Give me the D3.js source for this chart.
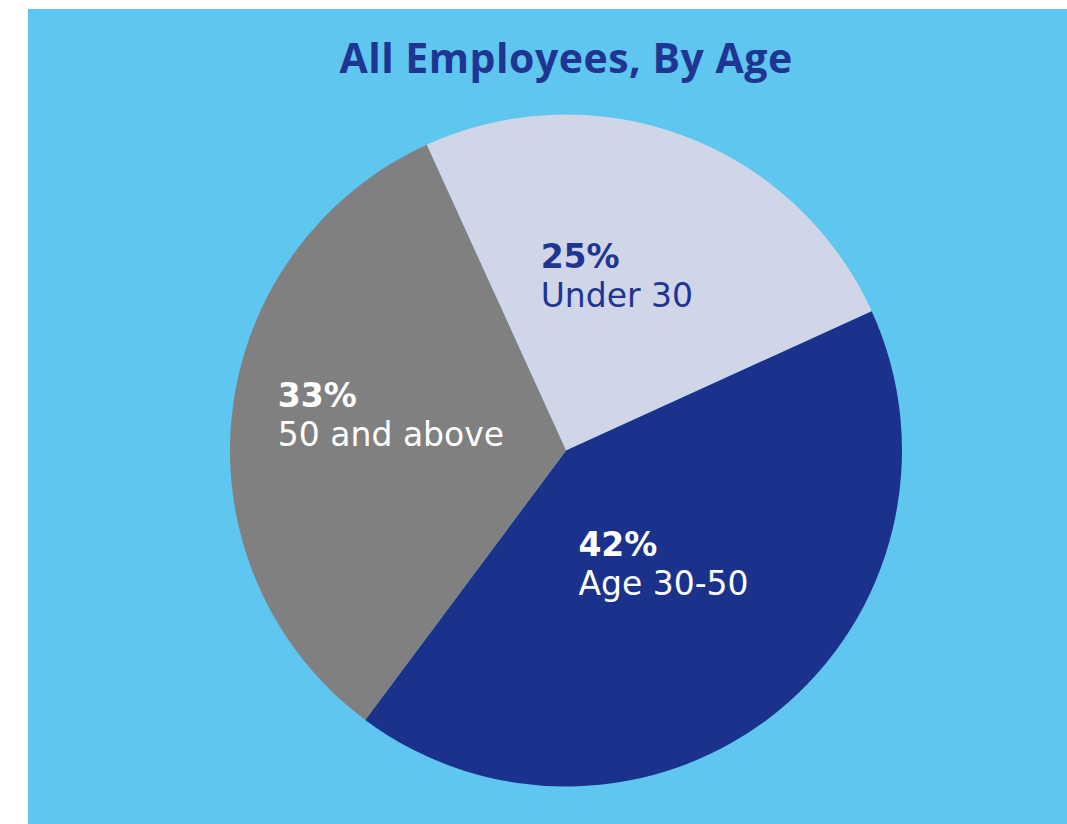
<!DOCTYPE html>
<html>
<head>
<meta charset="utf-8">
<script src="https://cdn.jsdelivr.net/npm/d3@7"></script>
<style>
  html, body { margin: 0; padding: 0; background: #ffffff; }
  svg { display: block; }
  .title { font-family: "Open Sans", Lato, sans-serif; }
  .slice-label { font-family: "DejaVu Sans", "Open Sans", sans-serif; }
</style>
</head>
<body>
<svg id="chart" width="1067" height="824"></svg>
<script>
// Age groups and their share of all employees (percent)
const categories = ["Under 30", "Age 30-50", "50 and above"];
const shares = [25, 42, 33];
const sliceColors = ["#D0D5E8", "#1B328C", "#808080"];
const labelColors = ["#1E3592", "#FFFFFF", "#FFFFFF"];
const title = "All Employees, By Age";

const W = 1067, H = 824;
const svg = d3.select("#chart");

// panel background
svg.append("rect")
  .attr("x", 28).attr("y", 9)
  .attr("width", W - 28).attr("height", H - 9)
  .attr("fill", "#5FC6F0");

// title
svg.append("text")
  .attr("class", "title")
  .attr("x", 566).attr("y", 73)
  .attr("text-anchor", "middle")
  .attr("fill", "#1E3592")
  .attr("font-weight", 700)
  .attr("font-size", 41)
  .attr("letter-spacing", 0.5)
  .text(title);

const cx = 566, cy = 450.5, R = 336;
const startAngle = -24.5 * Math.PI / 180;

const pie = d3.pie()
  .sort(null)
  .value(d => d.value)
  .startAngle(startAngle)
  .endAngle(startAngle + 2 * Math.PI);

const data = categories.map((c, i) => ({ name: c, value: shares[i], i }));
const arcs = pie(data);

const arc = d3.arc().innerRadius(0).outerRadius(R);
const labelArc = d3.arc().innerRadius(0).outerRadius(R);

const g = svg.append("g").attr("transform", `translate(${cx},${cy})`);

g.selectAll("path.slice")
  .data(arcs)
  .join("path")
  .attr("class", "slice")
  .attr("d", arc)
  .attr("fill", d => sliceColors[d.data.i]);

// two-line labels: bold percentage over the group name, left-aligned block
const lineStep = 39;
const fs = 33;
arcs.forEach(d => {
  const [x, y] = labelArc.centroid(d);
  const t = g.append("text")
    .attr("class", "slice-label")
    .attr("font-size", fs)
    .attr("fill", labelColors[d.data.i]);
  const s1 = t.append("tspan")
    .attr("x", 0).attr("y", 0)
    .attr("font-weight", 700)
    .text(d3.format(".0f")(d.data.value) + "%");
  const s2 = t.append("tspan")
    .attr("x", 0).attr("y", lineStep)
    .attr("font-weight", 400)
    .text(d.data.name);
  const w = Math.max(s1.node().getComputedTextLength(), s2.node().getComputedTextLength());
  // block spans from cap top of line 1 to baseline of line 2
  const capH = fs * 0.73;
  const blockH = lineStep + capH;
  t.attr("transform", `translate(${x - w / 2 - 8},${y - blockH / 2 + capH - 18})`);
});
</script>
</body>
</html>
